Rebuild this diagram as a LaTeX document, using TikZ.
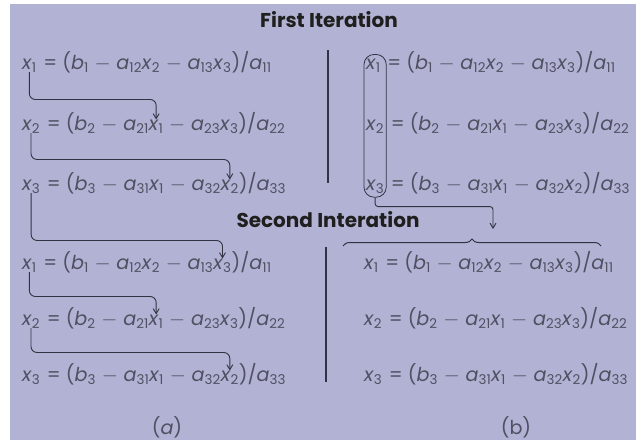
\documentclass[tikz,border=0pt]{standalone}
\usepackage{fontspec}
\setmainfont{Poppins}
\usetikzlibrary{arrows.meta,positioning,fit,decorations.pathreplacing}
\definecolor{bglav}{RGB}{178,179,212}
\definecolor{eqgray}{RGB}{80,80,98}
\definecolor{lngray}{RGB}{50,50,66}
\newcommand{\evar}[2]{\textit{#1}\textsubscript{#2}}
\newcommand{\eqminus}{\hspace{.3em}$-$\hspace{.3em}}
% one row: x_i = (b_i - a_ij x_j - a_ik x_k)/a_ii, split so that x_j and x_k get names
\newcommand{\eqrow}[6]{%
  \node[eqt] (#1-0) at (#2,#3) {\evar{x}{#4}};
  \node[eqt] (#1-1) at (#1-0.base east) {\hspace{.35em}= (\evar{b}{#4}\eqminus\evar{a}{#4#5}};
  \node[eqt] (#1-2) at (#1-1.base east) {\evar{x}{#5}};
  \node[eqt] (#1-3) at (#1-2.base east) {\eqminus\evar{a}{#4#6}};
  \node[eqt] (#1-4) at (#1-3.base east) {\evar{x}{#6}};
  \node[eqt] (#1-5) at (#1-4.base east) {)/\evar{a}{#4#4}};
}
\tikzset{
  eqt/.style={anchor=base west, inner sep=0pt, outer sep=0pt, text=eqgray,
      font=\fontsize{19.2}{22}\selectfont},
  ttl/.style={font=\fontsize{20}{24}\selectfont\bfseries, text=black!88},
  garr/.style={-{Straight Barb[length=5pt,width=6pt]}, lngray, line width=.9pt, rounded corners=6pt},
  divl/.style={lngray, line width=1.5pt},
  cbox/.style={draw=lngray, line width=.8pt, rounded corners=10pt, inner xsep=2pt, inner ysep=4pt},
  brc/.style={decorate, decoration={brace, amplitude=7pt}, lngray, line width=1pt},
}

\begin{document}
\begin{tikzpicture}[x=1pt, y=-1pt]
  \useasboundingbox (0,0) rectangle (636,440);
  \fill[white] (0,0) rectangle (636,440);
  \fill[bglav] (10,4) rectangle (636,440);

  \node[ttl] (ttla) at (329,20) {First Iteration};
  \node[ttl] (ttlb) at (328,220) {Second Interation};

  % (a) left column
  \eqrow{la1}{22}{69}{1}{2}{3}
  \eqrow{la2}{22}{130}{2}{1}{3}
  \eqrow{la3}{22}{190}{3}{1}{2}
  \eqrow{lb1}{22}{269}{1}{2}{3}
  \eqrow{lb2}{22}{325}{2}{1}{3}
  \eqrow{lb3}{22}{381}{3}{1}{2}
  \draw[garr] (la1-0.south) |- ([yshift=20pt]la2-2.north) -- (la2-2.north);
  \draw[garr] (la2-0.south) |- ([yshift=20pt]la3-4.north) -- (la3-4.north);
  \draw[garr] (la3-0.south) |- ([yshift=18pt]lb1-4.north) -- (lb1-4.north);
  \draw[garr] (lb1-0.south) |- ([yshift=18pt]lb2-2.north) -- (lb2-2.north);
  \draw[garr] (lb2-0.south) |- ([yshift=18pt]lb3-4.north) -- (lb3-4.north);

  % (b) right column
  \eqrow{ra1}{366}{69}{1}{2}{3}
  \eqrow{ra2}{366}{130}{2}{1}{3}
  \eqrow{ra3}{366}{190}{3}{1}{2}
  \eqrow{rb1}{364}{269}{1}{2}{3}
  \eqrow{rb2}{364}{325}{2}{1}{3}
  \eqrow{rb3}{364}{381}{3}{1}{2}
  \draw[divl] (328,50) -- (328,183);
  \draw[divl] (326,247) -- (326,382);
  \node[cbox, fit=(ra1-0)(ra3-0)] (colbox) {};
  \coordinate (bra) at (343,246);
  \coordinate (brb) at (601,246);
  \coordinate (tgt) at (493,229);
  \draw[brc] (bra) -- (brb);
  \draw[garr, rounded corners=3pt] (colbox.south) -- ++(0,9) -| (tgt);

  \node[eqt, anchor=center] (capa) at (167,427) {(\textit{a})};
  \node[eqt, anchor=center] (capb) at (516,427) {(b)};
\end{tikzpicture}
\end{document}
